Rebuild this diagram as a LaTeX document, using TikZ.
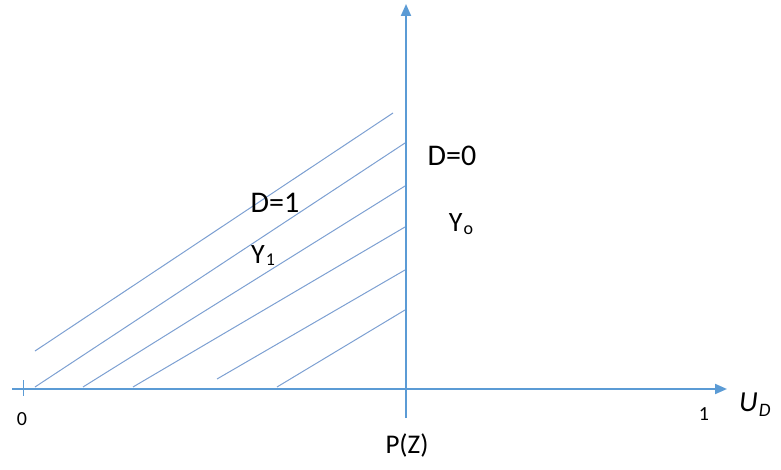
\documentclass[tikz,border=0pt]{standalone}
\usepackage{fontspec}
\setmainfont{Carlito}
\usetikzlibrary{arrows.meta}
\definecolor{axisblue}{RGB}{91,155,213}
\definecolor{hatchblue}{RGB}{125,160,210}
\tikzset{
  axis/.style={draw=axisblue, line width=2pt, -{Triangle[length=12pt,width=10pt]}},
  hatch/.style={draw=hatchblue, line width=1pt},
  lbl/.style={inner sep=0pt, text=black}
}
\begin{document}
\begin{tikzpicture}[x=1pt, y=-1pt]
	\useasboundingbox (0,0) rectangle (781,470);
	\coordinate (xstart) at (12,389);
	\coordinate (xend) at (727,389);
	\coordinate (ystart) at (406,418);
	\coordinate (yend) at (406,4);
	\draw[axis] (xstart) -- (xend);
	\draw[axis] (ystart) -- (yend);
	\draw[axisblue, line width=1pt] (23,380) -- (23,396);
	% hatching of the D=1 region
	\draw[hatch] (35,351) -- (393,113);
	\draw[hatch] (35,387) -- (405,143);
	\draw[hatch] (83,387) -- (405,186);
	\draw[hatch] (133,387) -- (405,227);
	\draw[hatch] (217,379) -- (405,270);
	\draw[hatch] (277,387) -- (405,310);
	% labels
	\node[lbl, font=\fontsize{20}{20}\selectfont] (zero) at (22,419) {0};
	\node[lbl, font=\fontsize{20}{20}\selectfont] (one) at (704,414) {1};
	\node[lbl, font=\fontsize{29}{29}\selectfont\itshape, anchor=west] (ud) at (739,405) {U\kern1pt\raisebox{-5pt}{\fontsize{19}{19}\selectfont D}};
	\node[lbl, font=\fontsize{27}{27}\selectfont] (pz) at (407,445) {P(Z)};
	\node[lbl, font=\fontsize{30}{30}\selectfont] (done) at (275,203) {D=1};
	\node[lbl, font=\fontsize{28}{28}\selectfont] (yone) at (263,256) {Y\kern1pt\raisebox{-2pt}{\fontsize{18}{18}\selectfont 1}};
	\node[lbl, font=\fontsize{30}{30}\selectfont] (dzero) at (452,156) {D=0};
	\node[lbl, font=\fontsize{28}{28}\selectfont] (yzero) at (461,224) {Y\kern1pt\raisebox{-3pt}{\fontsize{18}{18}\selectfont o}};
\end{tikzpicture}
\end{document}
